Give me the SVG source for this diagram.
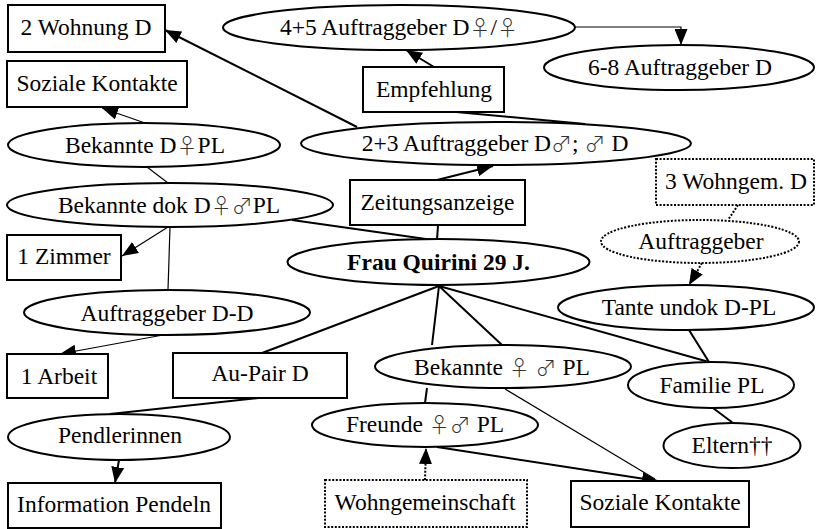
<svg xmlns="http://www.w3.org/2000/svg" width="816" height="529" viewBox="0 0 816 529">
<style>
.n{fill:#fff;stroke:#000;stroke-width:2}
.d{fill:#fff;stroke:#000;stroke-width:2;stroke-dasharray:2 1.6}
text{font-family:"Liberation Serif","Times New Roman",serif;font-size:23.5px;text-anchor:middle;fill:#000}
.b{font-weight:bold}
.s{font-family:"Noto Sans CJK JP","DejaVu Sans",sans-serif;font-weight:300;fill:#333;font-size:21px}
.thick{stroke:#000;stroke-width:2;fill:none}
.thin{stroke:#000;stroke-width:1.2;fill:none}
.dot{stroke:#000;stroke-width:2;fill:none;stroke-dasharray:2 1.6}
</style>
<defs>
<marker id="a" viewBox="0 0 16 13" markerWidth="16" markerHeight="13" refX="16" refY="6.5" orient="auto" markerUnits="userSpaceOnUse">
<path d="M0,0 L16,6.5 L0,13 z" fill="#000"/>
</marker>
</defs>
<rect width="816" height="529" fill="#fff"/>
<g id="connectors">
<line class="thick" x1="357" y1="127" x2="165" y2="30" marker-end="url(#a)"/>
<line class="thick" x1="434" y1="67" x2="406" y2="50" marker-end="url(#a)"/>
<polyline class="thin" points="575,27 681,27 681,45" marker-end="url(#a)"/>
<line class="thick" x1="456" y1="112" x2="585" y2="124"/>
<line class="thick" x1="437" y1="180" x2="493" y2="166" marker-end="url(#a)"/>
<line class="thick" x1="438" y1="225" x2="437" y2="240"/>
<line class="thin" x1="145" y1="123" x2="102" y2="108" marker-end="url(#a)"/>
<line class="thin" x1="147" y1="167" x2="168" y2="183"/>
<line class="thin" x1="168" y1="227" x2="122" y2="256" marker-end="url(#a)"/>
<line class="thin" x1="170" y1="227" x2="168" y2="290"/>
<line class="thin" x1="163" y1="335" x2="60" y2="354" marker-end="url(#a)"/>
<line class="thick" x1="292" y1="220" x2="433" y2="240"/>
<line class="thick" x1="439" y1="286" x2="262" y2="353"/>
<line class="thick" x1="439" y1="286" x2="432" y2="345"/>
<line class="thick" x1="439" y1="286" x2="502" y2="345"/>
<line class="thick" x1="439" y1="286" x2="709" y2="362"/>
<line class="thick" x1="259" y1="398" x2="110" y2="414"/>
<line class="thick" x1="119" y1="460" x2="115" y2="483" marker-end="url(#a)"/>
<line class="thick" x1="427" y1="388" x2="425" y2="403"/>
<line class="thin" x1="505" y1="389" x2="655" y2="479"/>
<line class="thick" x1="437" y1="447" x2="658" y2="481" marker-end="url(#a)"/>
<line class="dot" x1="425" y1="480" x2="426" y2="448" marker-end="url(#a)"/>
<line class="dot" x1="738" y1="205" x2="728" y2="220"/>
<line class="dot" x1="702" y1="263" x2="689" y2="285" marker-end="url(#a)"/>
<line class="thick" x1="689" y1="330" x2="709" y2="362"/>
<line class="thick" x1="713" y1="408" x2="733" y2="423"/>
</g>
<g id="n_wohnung2"><rect class="n" x="8" y="5" width="157" height="47"/><text x="86" y="35">2 Wohnung D</text></g>
<g id="n_soziale1"><rect class="n" x="7" y="61" width="180" height="46"/><text x="97" y="91">Soziale Kontakte</text></g>
<g id="n_auftr45"><ellipse class="n" cx="399" cy="27.5" rx="176" ry="22.5"/><text x="399" y="35">4+5 Auftraggeber D<tspan class="s">♀</tspan>/<tspan class="s">♀</tspan></text></g>
<g id="n_auftr68"><ellipse class="n" cx="679" cy="67.5" rx="135" ry="22.5"/><text x="680" y="75">6-8 Auftraggeber D</text></g>
<g id="n_empfehlung"><rect class="n" x="363" y="67" width="141" height="45"/><text x="434" y="97">Empfehlung</text></g>
<g id="n_bekannteDPL"><ellipse class="n" cx="144" cy="145" rx="136" ry="22"/><text x="145" y="153">Bekannte D<tspan class="s">♀</tspan>PL</text></g>
<g id="n_auftr23"><ellipse class="n" cx="496" cy="143.5" rx="195" ry="21.5"/><text x="495" y="151">2+3 Auftraggeber D<tspan class="s">♂</tspan>; <tspan class="s">♂</tspan> D</text></g>
<g id="n_wohngem3"><rect class="d" x="656" y="159" width="158" height="46"/><text x="736" y="189">3 Wohngem. D</text></g>
<g id="n_bekanntedok"><ellipse class="n" cx="170" cy="205" rx="163" ry="22"/><text x="169" y="213">Bekannte dok D<tspan class="s">♀♂</tspan>PL</text></g>
<g id="n_zeitung"><rect class="n" x="350" y="180" width="175" height="45"/><text x="437.5" y="210">Zeitungsanzeige</text></g>
<g id="n_auftraggeber"><ellipse class="d" cx="700" cy="241.5" rx="99" ry="21.5"/><text x="701" y="249">Auftraggeber</text></g>
<g id="n_zimmer"><rect class="n" x="7" y="235" width="114" height="45"/><text x="64" y="264">1 Zimmer</text></g>
<g id="n_frau"><ellipse class="n" cx="438.5" cy="262" rx="151" ry="23"/><text class="b" x="438.5" y="270">Frau Quirini 29 J.</text></g>
<g id="n_tante"><ellipse class="n" cx="686" cy="307.5" rx="128" ry="22.5"/><text x="689" y="315">Tante undok D-PL</text></g>
<g id="n_auftrDD"><ellipse class="n" cx="167" cy="312.5" rx="143" ry="22.5"/><text x="167" y="321">Auftraggeber D-D</text></g>
<g id="n_arbeit"><rect class="n" x="7" y="354" width="101" height="44"/><text x="59" y="384">1 Arbeit</text></g>
<g id="n_aupair"><rect class="n" x="173" y="353" width="174" height="45"/><text x="260" y="381">Au-Pair D</text></g>
<g id="n_bekannte"><ellipse class="n" cx="503" cy="366.5" rx="128" ry="21.5"/><text x="502" y="375">Bekannte <tspan class="s">♀</tspan> <tspan class="s">♂</tspan> PL</text></g>
<g id="n_familie"><ellipse class="n" cx="711" cy="385" rx="83" ry="23"/><text x="712" y="393">Familie PL</text></g>
<g id="n_freunde"><ellipse class="n" cx="425" cy="425" rx="113" ry="22"/><text x="425" y="432">Freunde <tspan class="s">♀♂</tspan> PL</text></g>
<g id="n_pendlerinnen"><ellipse class="n" cx="119" cy="437" rx="111" ry="23"/><text x="120" y="443">Pendlerinnen</text></g>
<g id="n_eltern"><ellipse class="n" cx="732" cy="445.5" rx="68.5" ry="22.5"/><text x="732" y="453">Eltern††</text></g>
<g id="n_info"><rect class="n" x="8" y="483" width="213" height="45"/><text x="114" y="512">Information Pendeln</text></g>
<g id="n_wohngem"><rect class="d" x="325" y="480" width="202" height="47"/><text x="425" y="510">Wohngemeinschaft</text></g>
<g id="n_soziale2"><rect class="n" x="571" y="481" width="178" height="46"/><text x="660" y="510">Soziale Kontakte</text></g>
</svg>
